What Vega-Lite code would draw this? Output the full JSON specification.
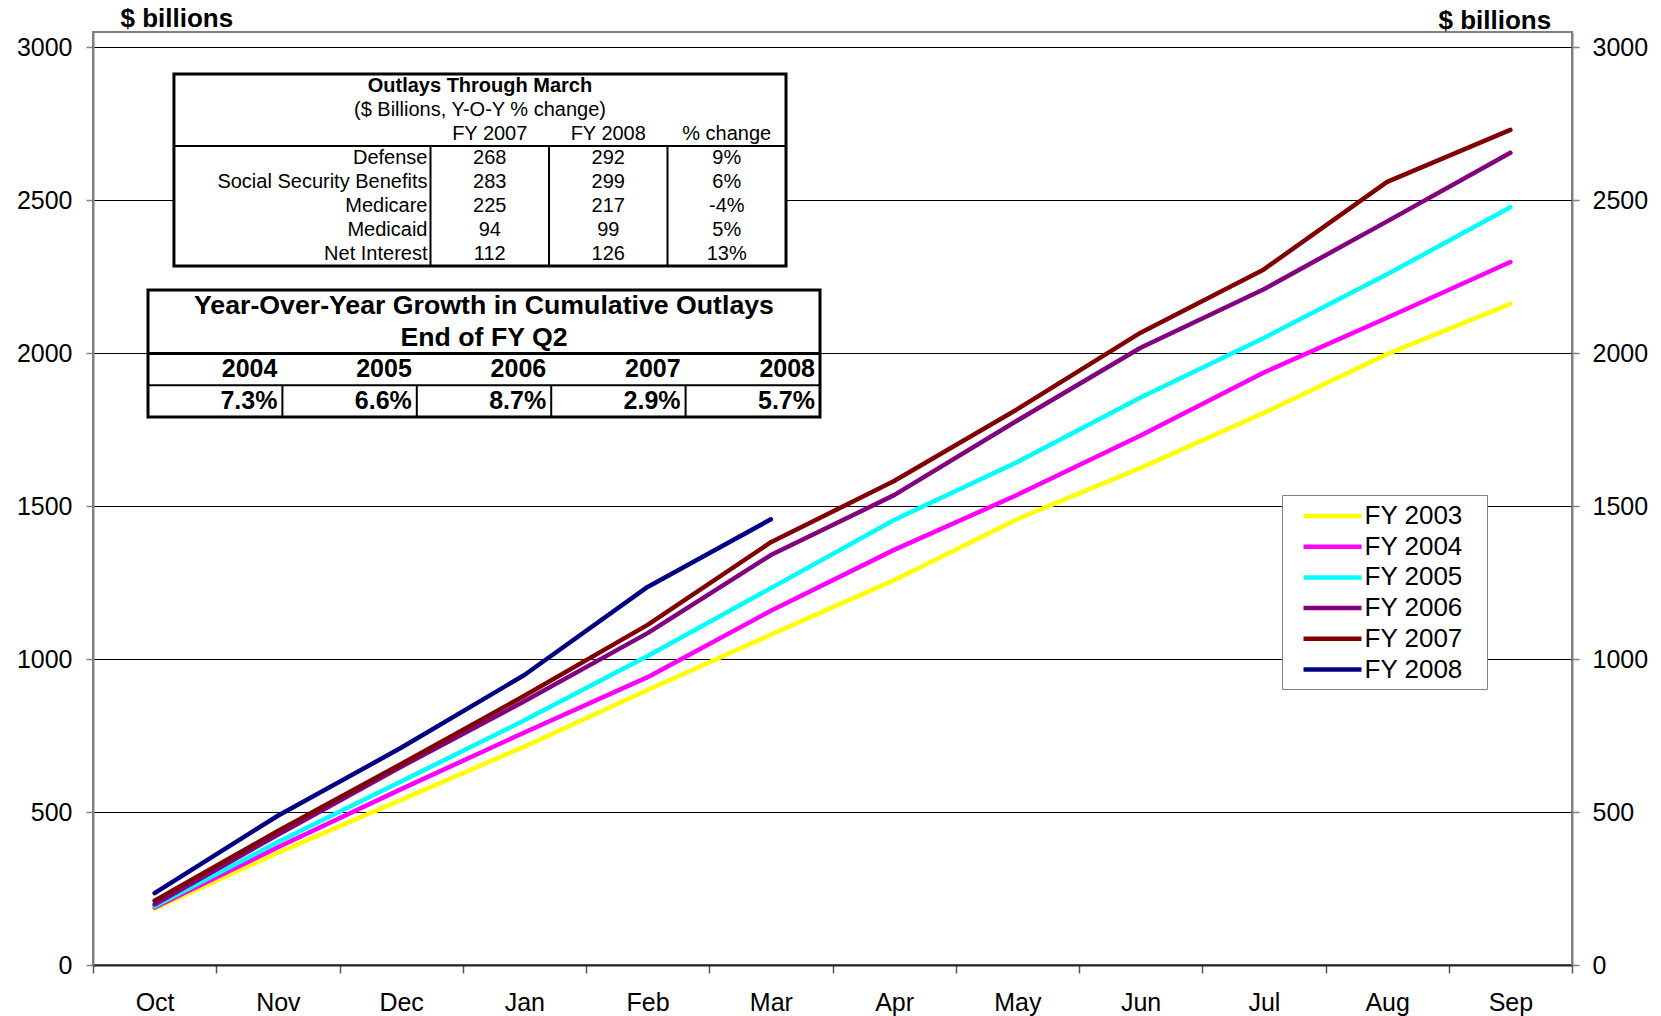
{
  "$schema": "https://vega.github.io/schema/vega-lite/v6.json",
  "width": 1479,
  "height": 933,
  "autosize": {"type": "none"},
  "padding": {"left": 93, "top": 32, "right": 89, "bottom": 51},
  "background": "white",
  "config": {
    "font": "Liberation Sans",
    "view": {"stroke": "#808080", "strokeWidth": 2},
    "axis": {"labelFont": "Liberation Sans", "labelColor": "black", "titleColor": "black", "titleFont": "Liberation Sans"},
    "legend": {
      "orient": "none", "legendX": 1189, "legendY": 463,
      "strokeColor": "#808080", "fillColor": "white", "padding": 6,
      "symbolType": "M-2.32,0H2.32M11.1,0", "symbolSize": 625, "symbolStrokeWidth": 4.5,
      "symbolOffset": 29.5,
      "labelFontSize": 26, "labelFont": "Liberation Sans", "labelColor": "black",
      "labelOffset": 17, "rowPadding": 2.7, "cornerRadius": 0
    }
  },
  "data": {"values": [
    {"month": "Oct", "FY 2003": 184, "FY 2004": 188, "FY 2005": 192, "FY 2006": 198, "FY 2007": 210, "FY 2008": 235},
    {"month": "Nov", "FY 2003": 367, "FY 2004": 385, "FY 2005": 402, "FY 2006": 426, "FY 2007": 438, "FY 2008": 488},
    {"month": "Dec", "FY 2003": 540, "FY 2004": 575, "FY 2005": 600, "FY 2006": 648, "FY 2007": 657, "FY 2008": 710},
    {"month": "Jan", "FY 2003": 714, "FY 2004": 760, "FY 2005": 800, "FY 2006": 862, "FY 2007": 880, "FY 2008": 948},
    {"month": "Feb", "FY 2003": 899, "FY 2004": 941, "FY 2005": 1010, "FY 2006": 1085, "FY 2007": 1112, "FY 2008": 1236},
    {"month": "Mar", "FY 2003": 1080, "FY 2004": 1158, "FY 2005": 1232, "FY 2006": 1340, "FY 2007": 1382, "FY 2008": 1457},
    {"month": "Apr", "FY 2003": 1258, "FY 2004": 1357, "FY 2005": 1455, "FY 2006": 1536, "FY 2007": 1582, "FY 2008": null},
    {"month": "May", "FY 2003": 1458, "FY 2004": 1537, "FY 2005": 1644, "FY 2006": 1780, "FY 2007": 1817, "FY 2008": null},
    {"month": "Jun", "FY 2003": 1625, "FY 2004": 1731, "FY 2005": 1855, "FY 2006": 2018, "FY 2007": 2067, "FY 2008": null},
    {"month": "Jul", "FY 2003": 1805, "FY 2004": 1937, "FY 2005": 2050, "FY 2006": 2209, "FY 2007": 2274, "FY 2008": null},
    {"month": "Aug", "FY 2003": 1997, "FY 2004": 2116, "FY 2005": 2258, "FY 2006": 2431, "FY 2007": 2560, "FY 2008": null},
    {"month": "Sep", "FY 2003": 2161, "FY 2004": 2298, "FY 2005": 2477, "FY 2006": 2655, "FY 2007": 2730, "FY 2008": null}
  ]},
  "resolve": {"scale": {"x": "independent", "y": "independent"}},
  "layer": [
    {
      "transform": [{"fold": ["FY 2003", "FY 2004", "FY 2005", "FY 2006", "FY 2007", "FY 2008"], "as": ["fy", "value"]}],
      "mark": {"type": "line", "strokeCap": "round", "strokeJoin": "round"},
      "encoding": {
        "x": {
          "field": "month", "type": "ordinal", "bandPosition": 0.5,
          "scale": {"type": "band", "domain": ["Oct", "Nov", "Dec", "Jan", "Feb", "Mar", "Apr", "May", "Jun", "Jul", "Aug", "Sep"], "paddingInner": 0, "paddingOuter": 0},
          "axis": {"title": null, "orient": "bottom", "tickBand": "extent", "labelAngle": 0, "labelFontSize": 25, "labelPadding": 17, "tickSize": 8, "tickColor": "#555555", "tickWidth": 1.5, "domainColor": "#222222", "domainWidth": 2, "grid": false}
        },
        "y": {
          "field": "value", "type": "quantitative",
          "scale": {"domain": [0, 3050], "nice": false, "zero": true},
          "axis": {"orient": "left", "values": [0, 500, 1000, 1500, 2000, 2500, 3000], "format": "d", "grid": true, "gridColor": "black", "gridWidth": 1, "gridOpacity": 1, "domainColor": "#808080", "domainWidth": 2, "tickColor": "#808080", "tickWidth": 1.5, "tickSize": 7, "labelFontSize": 25, "labelPadding": 14, "title": "$ billions", "titleAngle": 0, "titleAlign": "left", "titleBaseline": "middle", "titleX": 27, "titleY": -14, "titleFontSize": 26, "titleFontWeight": "bold"}
        },
        "color": {
          "field": "fy", "type": "nominal",
          "scale": {"domain": ["FY 2003", "FY 2004", "FY 2005", "FY 2006", "FY 2007", "FY 2008"], "range": ["#FFFF00", "#FF00FF", "#00FFFF", "#800080", "#800000", "#000080"]},
          "legend": {"title": null}
        },
        "strokeWidth": {
          "field": "fy", "type": "nominal",
          "scale": {"domain": ["FY 2003", "FY 2004", "FY 2005", "FY 2006", "FY 2007", "FY 2008"], "range": [4.5, 4.5, 4.5, 4.5, 4.5, 6]},
          "legend": {"title": null}
        }
      }
    },
    {
      "transform": [{"fold": ["FY 2003", "FY 2004", "FY 2005", "FY 2006", "FY 2007", "FY 2008"], "as": ["fy", "value"]}],
      "mark": {"type": "line", "opacity": 0},
      "encoding": {
        "x": {
          "field": "month", "type": "ordinal", "bandPosition": 0.5,
          "scale": {"type": "band", "domain": ["Oct", "Nov", "Dec", "Jan", "Feb", "Mar", "Apr", "May", "Jun", "Jul", "Aug", "Sep"], "paddingInner": 0, "paddingOuter": 0},
          "axis": null
        },
        "y": {
          "field": "value", "type": "quantitative",
          "scale": {"domain": [0, 3050], "nice": false, "zero": true},
          "axis": {"orient": "right", "values": [0, 500, 1000, 1500, 2000, 2500, 3000], "format": "d", "grid": false, "domainColor": "#808080", "domainWidth": 2, "tickColor": "#808080", "tickWidth": 1.5, "tickSize": 7, "labelFontSize": 25, "labelPadding": 13, "title": "$ billions", "titleAngle": 0, "titleAlign": "left", "titleBaseline": "middle", "titleX": -134, "titleY": -12, "titleFontSize": 26, "titleFontWeight": "bold"}
        },
        "detail": {"field": "fy", "type": "nominal"}
      }
    },
    {
      "data": {"values": [{"c0": -1.665, "c1": 3.5, "r0": -0.5, "r1": 7.5}]},
      "mark": {"type": "rect", "fill": "white", "stroke": "black", "strokeWidth": 3},
      "encoding": {
        "x": {"field": "c0", "type": "quantitative", "scale": {"domain": [-0.5, 3.5], "range": [219, 693], "nice": false, "zero": false}, "axis": null},
        "x2": {"field": "c1"},
        "y": {"field": "r0", "type": "quantitative", "scale": {"domain": [-0.5, 7.5], "range": [42, 234], "nice": false, "zero": false}, "axis": null},
        "y2": {"field": "r1"}
      }
    },
    {
      "data": {"values": [
        {"c0": -1.665, "c1": 3.5, "r0": 2.5, "r1": 2.5},
        {"c0": 0.5, "c1": 0.5, "r0": 2.5, "r1": 7.5},
        {"c0": 1.5, "c1": 1.5, "r0": 2.5, "r1": 7.5},
        {"c0": 2.5, "c1": 2.5, "r0": 2.5, "r1": 7.5}
      ]},
      "mark": {"type": "rule", "stroke": "black", "strokeWidth": 2},
      "encoding": {
        "x": {"field": "c0", "type": "quantitative", "scale": {"domain": [-0.5, 3.5], "range": [219, 693], "nice": false, "zero": false}, "axis": null},
        "x2": {"field": "c1"},
        "y": {"field": "r0", "type": "quantitative", "scale": {"domain": [-0.5, 7.5], "range": [42, 234], "nice": false, "zero": false}, "axis": null},
        "y2": {"field": "r1"}
      }
    },
    {
      "data": {"values": [{"row": 0, "text": "Outlays Through March"}]},
      "mark": {"type": "text", "fontWeight": "bold", "fontSize": 20, "align": "center", "baseline": "middle", "color": "black"},
      "encoding": {
        "x": {"datum": 0.9175, "type": "quantitative", "scale": {"domain": [-0.5, 3.5], "range": [219, 693], "nice": false, "zero": false}, "axis": null},
        "y": {"field": "row", "type": "quantitative", "scale": {"domain": [-0.5, 7.5], "range": [42, 234], "nice": false, "zero": false}, "axis": null},
        "text": {"field": "text"}
      }
    },
    {
      "data": {"values": [{"row": 1, "text": "($ Billions, Y-O-Y % change)"}]},
      "mark": {"type": "text", "fontSize": 20, "align": "center", "baseline": "middle", "color": "black"},
      "encoding": {
        "x": {"datum": 0.9175, "type": "quantitative", "scale": {"domain": [-0.5, 3.5], "range": [219, 693], "nice": false, "zero": false}, "axis": null},
        "y": {"field": "row", "type": "quantitative", "scale": {"domain": [-0.5, 7.5], "range": [42, 234], "nice": false, "zero": false}, "axis": null},
        "text": {"field": "text"}
      }
    },
    {
      "data": {"values": [
        {"col": 1, "row": 2, "text": "FY 2007"}, {"col": 2, "row": 2, "text": "FY 2008"}, {"col": 3, "row": 2, "text": "% change"},
        {"col": 1, "row": 3, "text": "268"}, {"col": 2, "row": 3, "text": "292"}, {"col": 3, "row": 3, "text": "9%"},
        {"col": 1, "row": 4, "text": "283"}, {"col": 2, "row": 4, "text": "299"}, {"col": 3, "row": 4, "text": "6%"},
        {"col": 1, "row": 5, "text": "225"}, {"col": 2, "row": 5, "text": "217"}, {"col": 3, "row": 5, "text": "-4%"},
        {"col": 1, "row": 6, "text": "94"}, {"col": 2, "row": 6, "text": "99"}, {"col": 3, "row": 6, "text": "5%"},
        {"col": 1, "row": 7, "text": "112"}, {"col": 2, "row": 7, "text": "126"}, {"col": 3, "row": 7, "text": "13%"}
      ]},
      "mark": {"type": "text", "fontSize": 20, "align": "center", "baseline": "middle", "color": "black"},
      "encoding": {
        "x": {"field": "col", "type": "quantitative", "scale": {"domain": [-0.5, 3.5], "range": [219, 693], "nice": false, "zero": false}, "axis": null},
        "y": {"field": "row", "type": "quantitative", "scale": {"domain": [-0.5, 7.5], "range": [42, 234], "nice": false, "zero": false}, "axis": null},
        "text": {"field": "text"}
      }
    },
    {
      "data": {"values": [
        {"row": 3, "text": "Defense"}, {"row": 4, "text": "Social Security Benefits"}, {"row": 5, "text": "Medicare"},
        {"row": 6, "text": "Medicaid"}, {"row": 7, "text": "Net Interest"}
      ]},
      "mark": {"type": "text", "fontSize": 20, "align": "right", "baseline": "middle", "color": "black", "dx": -3},
      "encoding": {
        "x": {"datum": 0.5, "type": "quantitative", "scale": {"domain": [-0.5, 3.5], "range": [219, 693], "nice": false, "zero": false}, "axis": null},
        "y": {"field": "row", "type": "quantitative", "scale": {"domain": [-0.5, 7.5], "range": [42, 234], "nice": false, "zero": false}, "axis": null},
        "text": {"field": "text"}
      }
    },
    {
      "data": {"values": [{"c0": 0, "c1": 5, "r0": -0.5, "r1": 3.5}]},
      "mark": {"type": "rect", "fill": "white", "stroke": "black", "strokeWidth": 3},
      "encoding": {
        "x": {"field": "c0", "type": "quantitative", "scale": {"domain": [0, 5], "range": [55, 727], "nice": false, "zero": false}, "axis": null},
        "x2": {"field": "c1"},
        "y": {"field": "r0", "type": "quantitative", "scale": {"domain": [-0.5, 3.5], "range": [258, 385], "nice": false, "zero": false}, "axis": null},
        "y2": {"field": "r1"}
      }
    },
    {
      "data": {"values": [{"c0": 0, "c1": 5, "r0": 1.5, "r1": 1.5}]},
      "mark": {"type": "rule", "stroke": "black", "strokeWidth": 3},
      "encoding": {
        "x": {"field": "c0", "type": "quantitative", "scale": {"domain": [0, 5], "range": [55, 727], "nice": false, "zero": false}, "axis": null},
        "x2": {"field": "c1"},
        "y": {"field": "r0", "type": "quantitative", "scale": {"domain": [-0.5, 3.5], "range": [258, 385], "nice": false, "zero": false}, "axis": null},
        "y2": {"field": "r1"}
      }
    },
    {
      "data": {"values": [
        {"c0": 0, "c1": 5, "r0": 2.5, "r1": 2.5},
        {"c0": 1, "c1": 1, "r0": 2.5, "r1": 3.5},
        {"c0": 2, "c1": 2, "r0": 2.5, "r1": 3.5},
        {"c0": 3, "c1": 3, "r0": 2.5, "r1": 3.5},
        {"c0": 4, "c1": 4, "r0": 2.5, "r1": 3.5}
      ]},
      "mark": {"type": "rule", "stroke": "black", "strokeWidth": 2},
      "encoding": {
        "x": {"field": "c0", "type": "quantitative", "scale": {"domain": [0, 5], "range": [55, 727], "nice": false, "zero": false}, "axis": null},
        "x2": {"field": "c1"},
        "y": {"field": "r0", "type": "quantitative", "scale": {"domain": [-0.5, 3.5], "range": [258, 385], "nice": false, "zero": false}, "axis": null},
        "y2": {"field": "r1"}
      }
    },
    {
      "data": {"values": [{"row": 0, "text": "Year-Over-Year Growth in Cumulative Outlays"}, {"row": 1, "text": "End of FY Q2"}]},
      "mark": {"type": "text", "fontWeight": "bold", "fontSize": 26.7, "align": "center", "baseline": "middle", "color": "black"},
      "encoding": {
        "x": {"datum": 2.5, "type": "quantitative", "scale": {"domain": [0, 5], "range": [55, 727], "nice": false, "zero": false}, "axis": null},
        "y": {"field": "row", "type": "quantitative", "scale": {"domain": [-0.5, 3.5], "range": [258, 385], "nice": false, "zero": false}, "axis": null},
        "text": {"field": "text"}
      }
    },
    {
      "data": {"values": [
        {"col": 1, "row": 2, "text": "2004"}, {"col": 2, "row": 2, "text": "2005"}, {"col": 3, "row": 2, "text": "2006"}, {"col": 4, "row": 2, "text": "2007"}, {"col": 5, "row": 2, "text": "2008"},
        {"col": 1, "row": 3, "text": "7.3%"}, {"col": 2, "row": 3, "text": "6.6%"}, {"col": 3, "row": 3, "text": "8.7%"}, {"col": 4, "row": 3, "text": "2.9%"}, {"col": 5, "row": 3, "text": "5.7%"}
      ]},
      "mark": {"type": "text", "fontWeight": "bold", "fontSize": 25, "align": "right", "baseline": "middle", "color": "black", "dx": -5},
      "encoding": {
        "x": {"field": "col", "type": "quantitative", "scale": {"domain": [0, 5], "range": [55, 727], "nice": false, "zero": false}, "axis": null},
        "y": {"field": "row", "type": "quantitative", "scale": {"domain": [-0.5, 3.5], "range": [258, 385], "nice": false, "zero": false}, "axis": null},
        "text": {"field": "text"}
      }
    }
  ]
}
